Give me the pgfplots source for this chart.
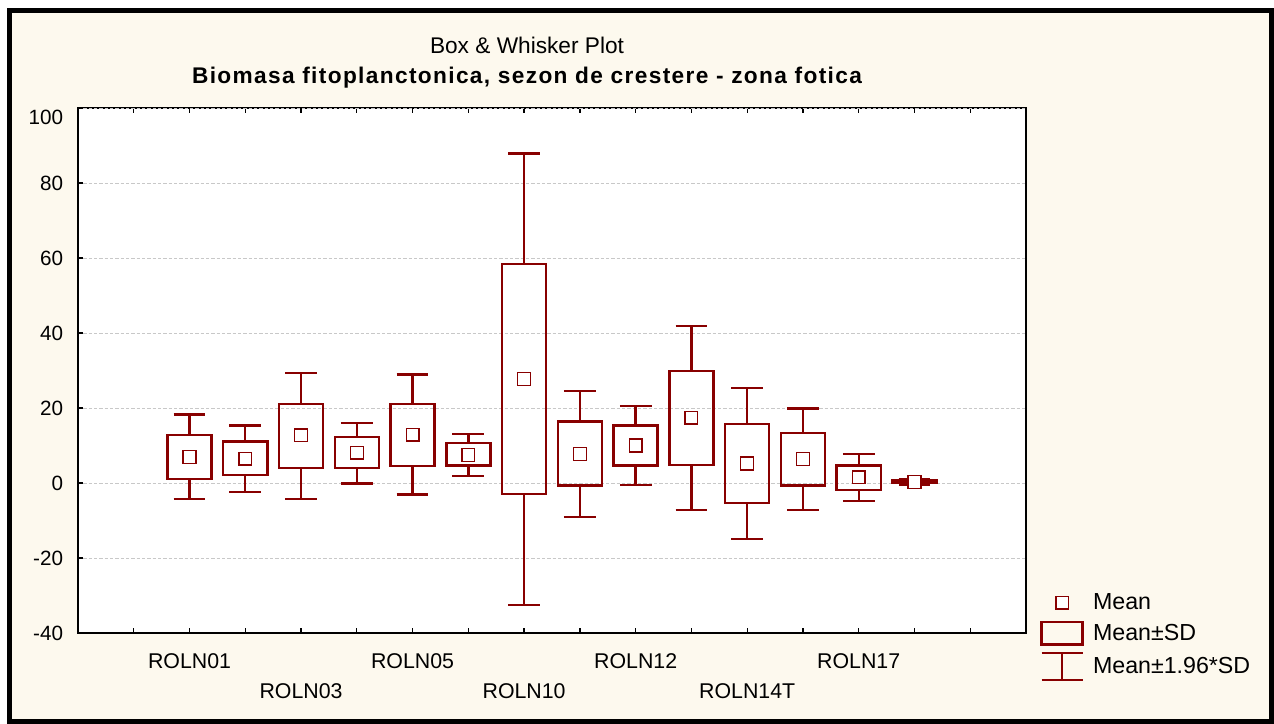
\documentclass[border=0pt]{standalone}
\usepackage{fontspec}
\setmainfont{Liberation Sans}
\usepackage{pgfplots}
\pgfplotsset{compat=1.18}
\usepgfplotslibrary{statistics}
\definecolor{boxred}{RGB}{136,0,0}
\definecolor{cream}{RGB}{253,249,238}
\definecolor{gridgray}{RGB}{200,200,200}

\begin{document}
\begin{tikzpicture}
\useasboundingbox (0,0) rectangle (955.5pt,543pt);
\fill[white] (0,0) rectangle (955.5pt,543pt);
\draw[line width=3.5pt, fill=cream] (7pt,1.9pt) rectangle (953.6pt,535pt);
\node[font=\fontsize{17}{20}\selectfont] at (395.25pt,509.25pt) {Box \& Whisker Plot};
\node[font=\fontsize{17}{20}\selectfont\bfseries\addfontfeatures{LetterSpace=6}] at (395.25pt,485pt) {Biomasa fitoplanctonica, sezon de crestere - zona fotica};

\begin{axis}[
  at={(58.5pt,68.25pt)}, anchor=south west,
  width=711pt, height=393.75pt, scale only axis,
  xmin=-1, xmax=16, ymin=-40, ymax=100,
  axis background/.style={fill=white},
  axis line style={line width=1.4pt, black},
  tick align=inside, major tick length=3.75pt,
  major tick style={black, line width=1pt},
  ytick pos=left,
  xtick={0,...,15},
  xticklabels={,ROLN01,,,,ROLN05,,,,ROLN12,,,,ROLN17,,},
  extra x ticks={3,7,11},
  extra x tick labels={ROLN03,ROLN10,ROLN14T},
  extra x tick style={xticklabel style={yshift=-22.5pt}},
  ytick={-40,-20,...,80},
  extra y ticks={100},
  extra y tick style={yticklabel style={yshift=-6.75pt}},
  ymajorgrids,
  grid style={gridgray, line width=0.6pt, dash pattern=on 2.5pt off 1.5pt},
  /pgf/number format/assume math mode=true,
  xticklabel style={font=\fontsize{16}{19}\selectfont, inner sep=0pt, yshift=-15pt},
  yticklabel style={font=\fontsize{15.5}{18}\selectfont, inner sep=0pt, xshift=-11pt},
  boxplot/draw direction=y,
  boxplot/draw/median/.code={},
  bx/.style={boxred, line width=1.8pt, solid, forget plot,
    boxplot/box extend=0.79, boxplot/whisker extend=0.57},
  legend style={draw=none, fill=none, at={(1.0148,0.08)}, anchor=north west,
    font=\fontsize{17.4}{20}\selectfont, row sep=4.5pt, column sep=5pt, inner sep=0pt},
  legend cell align=left,
]
% mean-1.96SD, mean-SD, mean, mean+SD, mean+1.96SD
\addplot[bx, boxplot prepared={draw position=1, lower whisker=-4.2, lower quartile=1.1, median=6.9, upper quartile=12.8, upper whisker=18.3}] coordinates {};
\addplot[bx, boxplot prepared={draw position=2, lower whisker=-2.4, lower quartile=2.2, median=6.5, upper quartile=11.1, upper whisker=15.3}] coordinates {};
\addplot[bx, boxplot prepared={draw position=3, lower whisker=-4.2, lower quartile=4.0, median=12.7, upper quartile=21.1, upper whisker=29.4}] coordinates {};
\addplot[bx, boxplot prepared={draw position=4, lower whisker=-0.1, lower quartile=4.0, median=8.1, upper quartile=12.3, upper whisker=16.0}] coordinates {};
\addplot[bx, boxplot prepared={draw position=5, lower whisker=-3.1, lower quartile=4.6, median=12.9, upper quartile=21.1, upper whisker=28.9}] coordinates {};
\addplot[bx, boxplot prepared={draw position=6, lower whisker=1.8, lower quartile=4.7, median=7.5, upper quartile=10.6, upper whisker=13.0}] coordinates {};
\addplot[bx, boxplot prepared={draw position=7, lower whisker=-32.5, lower quartile=-3.0, median=27.7, upper quartile=58.4, upper whisker=87.9}] coordinates {};
\addplot[bx, boxplot prepared={draw position=8, lower whisker=-9.0, lower quartile=-0.7, median=7.7, upper quartile=16.4, upper whisker=24.6}] coordinates {};
\addplot[bx, boxplot prepared={draw position=9, lower whisker=-0.6, lower quartile=4.7, median=10.0, upper quartile=15.3, upper whisker=20.5}] coordinates {};
\addplot[bx, boxplot prepared={draw position=10, lower whisker=-7.2, lower quartile=4.8, median=17.4, upper quartile=29.9, upper whisker=41.9}] coordinates {};
\addplot[bx, boxplot prepared={draw position=11, lower whisker=-15.0, lower quartile=-5.3, median=5.2, upper quartile=15.8, upper whisker=25.4}] coordinates {};
\addplot[bx, boxplot prepared={draw position=12, lower whisker=-7.2, lower quartile=-0.7, median=6.4, upper quartile=13.4, upper whisker=19.9}] coordinates {};
\addplot[bx, boxplot prepared={draw position=13, lower whisker=-4.8, lower quartile=-1.8, median=1.5, upper quartile=4.7, upper whisker=7.7}] coordinates {};
\addplot[bx, boxplot prepared={draw position=14, lower whisker=-0.4, lower quartile=-0.05, median=0.3, upper quartile=0.65, upper whisker=1.0}] coordinates {};

% means
\addplot[only marks, forget plot, mark=square*, mark size=4.8pt,
  mark options={draw=boxred, fill=white, line width=1pt, solid}] coordinates {
  (1,6.9) (2,6.5) (3,12.7) (4,8.1) (5,12.9) (6,7.5) (7,27.7)
  (8,7.7) (9,10.0) (10,17.4) (11,5.2) (12,6.4) (13,1.5) (14,0.3)
};

\addlegendimage{legend image code/.code={
  \path[draw=none, fill=none] (0pt,0pt) -- (30.75pt,0pt);
  \draw[boxred, line width=1pt, fill=white] (10.8pt,-4.6pt) rectangle (20pt,4.6pt);}}
\addlegendentry{Mean}
\addlegendimage{legend image code/.code={
  \draw[boxred, line width=1.8pt, fill=none] (0pt,-8.6pt) rectangle (30.75pt,8.6pt);}}
\addlegendentry{Mean±SD}
\addlegendimage{legend image code/.code={
  \draw[boxred, line width=1.8pt] (0pt,-10pt) -- (30.75pt,-10pt)
    (15.4pt,-10pt) -- (15.4pt,10pt) (0pt,10pt) -- (30.75pt,10pt);}}
\addlegendentry{Mean±1.96*SD}
\end{axis}
\end{tikzpicture}
\end{document}
